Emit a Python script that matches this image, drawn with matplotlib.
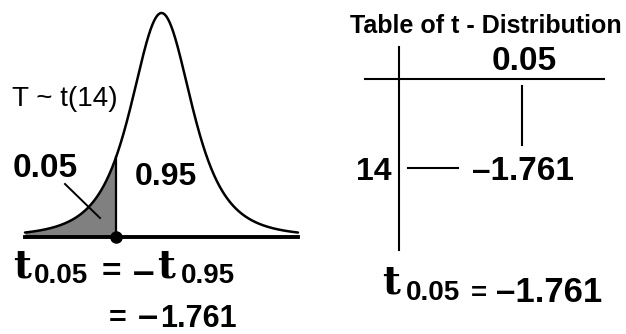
import math
import numpy as np
import matplotlib
matplotlib.use("Agg")
import matplotlib.pyplot as plt

# data for the diagram
df = 14
alpha = 0.05
t_crit = -1.761
area_left = "0.05"
area_right = "0.95"
table_title = "Table of t - Distribution"
table_col = "0.05"
table_row = "14"
table_val = "1.761"

# the bell in the figure is schematic: its shape,
# is a heavy-tailed t curve (about 3 df, widened by 1.24)
shape_df = 3
shape_scale = 1.24


def t_pdf(t, v):
    c = math.exp(math.lgamma((v + 1) / 2) - math.lgamma(v / 2)) / math.sqrt(v * math.pi)
    return c * (1 + t ** 2 / v) ** (-(v + 1) / 2)


def bell(t):
    return t_pdf(t / shape_scale, shape_df) / shape_scale


W, H = 626, 334
fig = plt.figure(figsize=(W / 100, H / 100), dpi=100)

# curve axes (pixel box 25..298 wide, baseline at 237, peak at 13)
xl, xr, yb, yt = 25, 298, 237, 13
ax = fig.add_axes([xl / W, (H - yb) / H, (xr - xl) / W, (yb - yt) / H])
half = 5.3
t = np.linspace(-half, half, 800)
y = bell(t)
ax.set_xlim(-half, half)
ax.set_ylim(0, y.max())
ax.axis("off")

ts = t[t <= t_crit]
ax.fill_between(ts, 0, bell(ts), color="#808080", lw=0)
ax.plot(t, y, color="black", lw=1.8, clip_on=False, solid_capstyle="round")
ax.plot([-half, half], [0, 0], color="black", lw=2.8, clip_on=False)
ax.plot([t_crit, t_crit], [0, bell(t_crit)], color="black", lw=1.6)
ax.plot([t_crit], [0], "o", color="black", ms=8, clip_on=False, zorder=5)

# overlay axes in pixel coordinates for labels and table
ov = fig.add_axes([0, 0, 1, 1])
ov.set_xlim(0, W)
ov.set_ylim(H, 0)
ov.axis("off")

sans = "Liberation Sans"
serif = "DejaVu Serif"

ov.text(12, 106, "T ~ t(%d)" % df, fontsize=20, family=sans, va="baseline")
ov.text(13, 177, area_left, fontsize=24, weight="bold", family=sans, va="baseline")
ov.text(135, 185, area_right, fontsize=23, weight="bold", family=sans, va="baseline")
ov.plot([65, 100], [184, 218], color="black", lw=1.4)

# t_0.05 = - t_0.95
ov.text(13, 277, "t", fontsize=28, weight="bold", family=serif, va="baseline")
ov.text(34, 283, "%.2f" % alpha, fontsize=20, weight="bold", family=sans, va="baseline")
ov.text(111, 269, "=", fontsize=24, weight="bold", family=sans, ha="center", va="center_baseline")
ov.text(144, 270, "–", fontsize=28, weight="bold", family=sans, ha="center", va="center_baseline")
ov.text(157, 277, "t", fontsize=28, weight="bold", family=serif, va="baseline")
ov.text(181, 283, "%.2f" % (1 - alpha), fontsize=20, weight="bold", family=sans, va="baseline")
ov.text(118, 327, "=", fontsize=22, weight="bold", family=sans, ha="center", va="baseline")
ov.text(148, 327, "–", fontsize=26, weight="bold", family=sans, ha="center", va="baseline")
ov.text(160, 327, table_val, fontsize=22, weight="bold", family=sans, va="baseline")

# table of t-distribution
ov.text(486, 33, table_title, fontsize=18, weight="bold", family=sans, ha="center", va="baseline")
ov.plot([399, 399], [47, 250], color="black", lw=1.5)
ov.plot([365, 604], [79, 79], color="black", lw=1.5)
ov.plot([522, 522], [86, 145], color="black", lw=1.5)
ov.plot([408, 458], [168, 168], color="black", lw=1.5)
ov.text(524, 70, table_col, fontsize=24, weight="bold", family=sans, ha="center", va="baseline")
ov.text(392, 180, table_row, fontsize=23, weight="bold", family=sans, ha="right", va="baseline")
ov.text(472, 180, "–" + table_val, fontsize=24, weight="bold", family=sans, va="baseline")

ov.text(382, 293, "t", fontsize=28, weight="bold", family=serif, va="baseline")
ov.text(406, 300, "%.2f" % alpha, fontsize=20, weight="bold", family=sans, va="baseline")
ov.text(479, 291, "=", fontsize=20, weight="bold", family=sans, ha="center", va="center_baseline")
ov.text(496, 302, "–" + table_val, fontsize=25, weight="bold", family=sans, va="baseline")

fig.savefig("out.png", dpi=100)
